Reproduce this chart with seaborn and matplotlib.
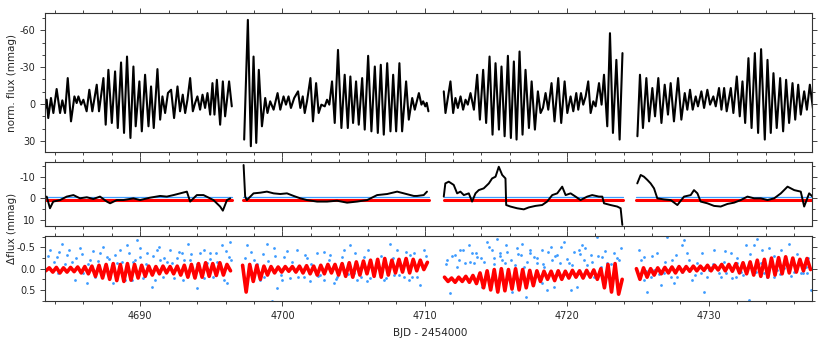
import matplotlib
matplotlib.use("Agg")
import matplotlib.pyplot as plt
import numpy as np
import pandas as pd
import seaborn as sns
from matplotlib.ticker import MultipleLocator

# ---- top panel: normalised flux (mmag) ----
top_t1 = [4683.30, 4683.42, 4683.53, 4683.72, 4683.89, 4684.12, 4684.36, 4684.52, 4684.71, 4684.90,
          4685.13, 4685.37, 4685.53, 4685.65, 4685.84, 4686.00, 4686.23, 4686.42, 4686.63, 4686.94,
          4687.10, 4687.41, 4687.57, 4687.76, 4688.00, 4688.23, 4688.42, 4688.65, 4688.86, 4689.07,
          4689.31, 4689.52, 4689.68, 4689.94, 4690.11, 4690.34, 4690.58, 4690.76, 4690.95, 4691.21,
          4691.40, 4691.56, 4691.75, 4691.95, 4692.17, 4692.38, 4692.62, 4692.80, 4692.99, 4693.16,
          4693.32, 4693.51, 4693.70, 4693.86, 4694.02, 4694.21, 4694.38, 4694.56, 4694.73, 4694.92,
          4695.08, 4695.22, 4695.39, 4695.62, 4695.81, 4695.97, 4696.25, 4696.44]
top_f1 = [4.6, -3.5, 11.4, -4.9, 7.3, -12.2, 7.3, -3.0, 7.3, -21.1,
          14.1, -6.2, -0.8, -6.2, 0.5, -3.5, 5.9, -11.6, 5.9, -15.7,
          5.9, -21.1, 16.8, -27.8, 15.4, -26.5, 19.5, -33.8, 23.5, -38.6,
          27.6, -30.5, 18.1, -18.4, 22.2, -23.8, 18.1, -14.3, 19.5, -28.4,
          12.7, -6.2, 7.3, -9.0, -11.6, 11.4, -14.3, 5.9, -7.6, 7.3,
          -3.5, -21.1, 5.9, -0.8, -6.2, 4.6, -7.6, 3.2, -8.9, 8.6,
          -17.0, 8.6, -19.7, 16.8, -18.4, 10.0, -18.4, 1.9]
top_t2 = [4697.31, 4697.57, 4697.78, 4697.97, 4698.16, 4698.34, 4698.56, 4698.79, 4698.95, 4699.14,
          4699.38, 4699.66, 4699.85, 4700.08, 4700.25, 4700.43, 4700.60, 4700.83, 4701.10, 4701.26,
          4701.43, 4701.57, 4701.73, 4701.97, 4702.15, 4702.37, 4702.55, 4702.74, 4702.98, 4703.14,
          4703.30, 4703.49, 4703.68, 4703.91, 4704.15, 4704.38, 4704.60, 4704.78, 4704.97, 4705.18,
          4705.37, 4705.61, 4705.79, 4706.03, 4706.26, 4706.50, 4706.71, 4706.92, 4707.13, 4707.37,
          4707.60, 4707.79, 4708.00, 4708.23, 4708.42, 4708.70, 4708.89, 4709.13, 4709.31, 4709.60,
          4709.78, 4709.90, 4710.05, 4710.15, 4710.27]
top_f2 = [28.9, -68.4, 34.3, -38.6, 31.6, -27.8, 18.1, -4.9, 7.3, -2.2,
          4.6, -8.9, 4.6, -6.2, 0.5, -6.2, 3.2, -4.9, -10.3, 3.2,
          -6.2, 7.3, -2.2, -21.1, 14.1, -17.0, 7.3, 0.5, 1.9, -3.5,
          0.5, -18.4, 15.4, -44.0, 19.5, -23.8, 19.5, -22.4, 15.4, -18.4,
          16.8, -21.1, 20.8, -39.2, 22.2, -30.5, 23.5, -31.9, 24.9, -33.2,
          22.2, -23.8, 22.2, -33.2, 22.2, -18.4, 12.7, -4.9, 4.6, -8.9,
          0.5, -2.2, 1.9, -1.0, 5.9]
top_t3 = [4711.35, 4711.47, 4711.82, 4712.01, 4712.17, 4712.34, 4712.53, 4712.71, 4712.88, 4713.04,
          4713.23, 4713.47, 4713.70, 4713.89, 4714.12, 4714.33, 4714.57, 4714.78, 4714.99, 4715.23,
          4715.41, 4715.63, 4715.86, 4716.07, 4716.28, 4716.47, 4716.68, 4716.89, 4717.10, 4717.34,
          4717.53, 4717.76, 4717.97, 4718.16, 4718.33, 4718.51, 4718.70, 4718.93, 4719.14, 4719.40,
          4719.61, 4719.85, 4720.04, 4720.27, 4720.46, 4720.67, 4720.81, 4721.00, 4721.16, 4721.33,
          4721.51, 4721.68, 4721.87, 4722.03, 4722.27, 4722.45, 4722.62, 4722.85, 4723.04, 4723.25,
          4723.49, 4723.72, 4723.92]
top_f3 = [-10.3, 7.3, -18.4, 7.3, -4.9, 3.2, -6.2, 4.6, -3.5, 0.5,
          -8.9, 4.6, -23.8, 12.7, -27.8, 15.4, -38.6, 24.9, -33.2, 20.8,
          -30.5, 26.2, -39.2, 27.6, -34.6, 28.9, -42.7, 24.9, -27.8, 19.5,
          -18.4, 20.8, -10.3, 7.3, 3.0, -8.9, 4.6, -17.0, 14.1, -21.1,
          15.4, -18.4, 7.3, -6.2, 5.9, -8.9, 4.6, -8.9, 0.5, -6.2,
          -18.4, 7.3, -2.2, 1.9, -17.0, 0.5, -23.8, 18.1, -57.6, 23.5,
          -35.9, 28.9, -41.4]
top_t4 = [4724.97, 4725.15, 4725.36, 4725.60, 4725.79, 4726.02, 4726.21, 4726.44, 4726.66, 4726.89,
          4727.12, 4727.31, 4727.54, 4727.83, 4728.06, 4728.30, 4728.48, 4728.67, 4728.86, 4729.07,
          4729.23, 4729.47, 4729.66, 4729.89, 4730.08, 4730.31, 4730.48, 4730.71, 4730.88, 4731.07,
          4731.25, 4731.54, 4731.72, 4731.96, 4732.17, 4732.36, 4732.55, 4732.78, 4733.00, 4733.23,
          4733.46, 4733.67, 4733.93, 4734.12, 4734.35, 4734.54, 4734.77, 4735.01, 4735.22, 4735.43,
          4735.64, 4735.88, 4736.07, 4736.28, 4736.46, 4736.70, 4736.89, 4737.10, 4737.36]
top_f4 = [26.2, -23.8, 19.5, -21.1, 14.1, -13.0, 10.0, -21.1, 15.4, -15.7,
          8.6, -17.0, 14.1, -21.1, 12.7, -8.9, 4.6, -11.6, 4.6, -6.2,
          1.9, -10.3, 3.2, -11.6, 0.5, -6.2, 1.9, -13.0, 4.6, -13.0,
          5.9, -13.0, 7.3, -22.4, 10.0, -18.4, 15.4, -37.3, 19.5, -41.4,
          23.5, -44.6, 28.9, -35.9, 23.5, -25.1, 19.5, -21.1, 22.2, -19.7,
          15.4, -17.0, 12.7, -15.7, 8.6, -10.3, 4.6, -15.7, 7.3]

# ---- middle panel: residual flux (mmag) ----
res_t1 = [4683.42, 4683.65, 4683.88, 4684.36, 4684.83, 4685.30, 4685.76, 4686.24, 4686.70, 4687.17,
          4687.65, 4687.88, 4688.35, 4688.81, 4689.52, 4689.99, 4690.69, 4691.40, 4691.87, 4692.34,
          4692.81, 4693.28, 4693.51, 4693.98, 4694.45, 4695.15, 4695.62, 4695.81, 4696.10, 4696.33]
res_f1 = [-0.8, 4.6, 1.5, 0.8, -0.8, -1.5, 0.0, -0.5, 0.3, -0.8,
          1.5, 2.3, 0.8, 0.8, 0.0, 0.8, -0.3, -1.1, -0.8, -1.5,
          -2.3, -3.1, 1.5, -1.5, -1.5, 0.8, 3.8, 5.7, 0.8, 0.0]
res_t2 = [4697.27, 4697.38, 4697.50, 4697.97, 4698.44, 4698.91, 4699.38, 4699.85, 4700.32, 4700.79,
          4701.26, 4701.73, 4702.44, 4703.14, 4703.84, 4704.55, 4705.25, 4705.96, 4706.66, 4707.37,
          4708.07, 4708.54, 4709.24, 4709.47, 4709.94, 4710.17]
res_f2 = [-15.4, -0.8, 0.8, -2.3, -2.6, -3.1, -2.3, -2.0, -2.3, -1.1,
          0.0, 0.8, 1.5, 1.5, 1.1, 2.0, 1.5, 0.8, -1.5, -2.0,
          -3.1, -2.3, -1.1, -1.1, -1.5, -3.1]
res_t3 = [4711.35, 4711.46, 4711.70, 4712.05, 4712.29, 4712.52, 4712.76, 4713.11, 4713.34, 4713.58,
          4713.81, 4714.16, 4714.52, 4714.75, 4714.99, 4715.22, 4715.46, 4715.69, 4715.74, 4716.04,
          4716.51, 4716.98, 4717.33, 4717.80, 4718.27, 4718.62, 4718.98, 4719.33, 4719.68, 4719.92,
          4720.27, 4720.62, 4720.97, 4721.44, 4721.79, 4722.26, 4722.50, 4722.62, 4723.08, 4723.55,
          4723.79, 4723.91]
res_f3 = [-0.8, -6.9, -7.7, -6.2, -2.3, -3.1, -1.5, -2.3, 1.5, -2.3,
          -3.8, -4.6, -6.9, -9.2, -10.0, -14.6, -10.8, -9.2, 3.1, 3.8,
          4.6, 5.1, 4.2, 3.5, 3.1, 1.5, -1.5, -2.3, -5.4, -1.5,
          -2.3, -0.8, 0.8, -0.8, -1.5, -0.8, -0.8, 2.3, 3.1, 3.8,
          4.6, 12.3]
res_t4 = [4724.96, 4725.20, 4725.43, 4725.67, 4725.90, 4726.14, 4726.37, 4726.84, 4727.31, 4727.78,
          4728.25, 4728.72, 4728.95, 4729.19, 4729.42, 4729.89, 4730.36, 4730.83, 4731.30, 4731.77,
          4732.24, 4732.71, 4733.18, 4733.65, 4734.12, 4734.59, 4735.06, 4735.53, 4736.00, 4736.46,
          4736.70, 4737.05, 4737.29]
res_f4 = [-6.9, -10.8, -10.0, -8.5, -6.9, -4.6, 0.0, 0.5, 0.8, 3.1,
          -0.8, -1.5, -3.8, -2.3, 1.5, 2.3, 3.5, 3.8, 2.6, 2.0,
          0.8, -0.8, 0.0, 0.0, 0.8, 0.0, -2.3, -5.4, -3.8, -3.1,
          3.8, -2.3, -0.8]
seg_start = [4683.30, 4697.25, 4711.35, 4724.90]
seg_end = [4696.45, 4710.30, 4723.95, 4737.30]
flat_red = 0.6
flat_blue = -0.6

# ---- bottom panel: model residual (red, sampled every 0.25 d) and blue points ----
red_start = [4683.35, 4697.20, 4711.40, 4724.90]
red_step = 0.25
red_v1 = [0.05, -0.02, 0.08, -0.03, 0.10, -0.02, 0.08, -0.03, 0.07, -0.04,
          0.10, -0.05, 0.12, -0.06, 0.18, -0.08, 0.22, -0.10, 0.25, -0.12,
          0.28, -0.10, 0.30, -0.12, 0.27, -0.10, 0.22, -0.08, 0.18, -0.06,
          0.15, -0.05, 0.12, -0.06, 0.10, -0.05, 0.12, -0.06, 0.15, -0.08,
          0.20, -0.10, 0.22, -0.12, 0.20, -0.14, 0.18, -0.12, 0.16, -0.14,
          0.15, -0.10, 0.05]
red_v2 = [-0.08, 0.55, -0.10, 0.30, -0.08, 0.25, -0.06, 0.15, -0.05, 0.10,
          -0.04, 0.08, -0.05, 0.06, -0.05, 0.08, -0.06, 0.10, -0.07, 0.12,
          -0.06, 0.15, -0.08, 0.12, -0.10, 0.10, -0.10, 0.15, -0.12, 0.18,
          -0.14, 0.20, -0.16, 0.15, -0.18, 0.12, -0.20, 0.18, -0.22, 0.20,
          -0.24, 0.15, -0.20, 0.10, -0.22, 0.08, -0.24, 0.10, -0.22, 0.05,
          -0.20, 0.02, -0.15]
red_v3 = [0.20, 0.30, 0.22, 0.32, 0.20, 0.30, 0.18, 0.32, 0.16, 0.35,
          0.10, 0.45, 0.05, 0.50, 0.02, 0.55, 0.00, 0.52, 0.02, 0.48,
          0.00, 0.50, 0.02, 0.45, 0.04, 0.40, 0.05, 0.30, 0.06, 0.25,
          0.06, 0.28, 0.05, 0.25, 0.06, 0.22, 0.04, 0.20, 0.05, 0.22,
          0.04, 0.20, 0.03, 0.25, 0.00, 0.45, -0.10, 0.55, -0.12, 0.60,
          0.25]
red_v4 = [0.00, 0.25, -0.02, 0.20, 0.00, 0.15, -0.02, 0.12, -0.03, 0.10,
          -0.04, 0.10, -0.05, 0.08, -0.05, 0.06, -0.06, 0.05, -0.06, 0.04,
          -0.08, 0.05, -0.08, 0.03, -0.10, 0.05, -0.10, 0.06, -0.12, 0.10,
          -0.14, 0.12, -0.16, 0.15, -0.20, 0.18, -0.22, 0.20, -0.25, 0.15,
          -0.26, 0.12, -0.28, 0.10, -0.25, 0.08, -0.22, 0.05, -0.24, 0.02]

blue_t = [4683.65, 4684.47, 4684.12, 4685.76, 4684.83, 4685.41, 4686.23, 4686.47, 4687.17, 4687.64,
          4688.11, 4688.58, 4689.05, 4689.40, 4689.76, 4689.99, 4690.46, 4690.81, 4691.16, 4691.63,
          4692.10, 4692.57, 4693.04, 4693.39, 4693.98, 4694.22, 4694.68, 4695.15, 4695.74, 4696.33,
          4696.09, 4684.24, 4685.18, 4686.00, 4686.82, 4687.88, 4688.35, 4688.93, 4689.52, 4690.22,
          4691.05, 4691.40, 4691.87, 4692.34, 4692.92, 4693.51, 4694.45, 4694.92, 4695.39, 4695.86,
          4696.21,
          4697.50, 4697.97, 4698.44, 4698.91, 4699.38, 4699.61, 4700.08, 4700.55, 4701.02, 4701.49,
          4701.96, 4702.43, 4702.90, 4703.37, 4703.84, 4704.31, 4704.78, 4705.25, 4705.72, 4706.19,
          4706.66, 4707.13, 4707.60, 4708.07, 4708.54, 4709.24, 4697.97, 4698.68, 4699.97, 4700.79,
          4701.73, 4702.67, 4703.61, 4705.01, 4705.95, 4707.83, 4708.89, 4699.26, 4709.00, 4709.47,
          4709.94, 4709.23, 4709.70,
          4711.58, 4711.82, 4712.17, 4712.52, 4713.11, 4713.69, 4714.05, 4714.40, 4714.75, 4715.10,
          4715.46, 4715.81, 4716.16, 4716.51, 4716.86, 4717.10, 4717.45, 4717.92, 4718.27, 4718.62,
          4718.98, 4719.33, 4719.80, 4720.15, 4720.50, 4720.85, 4721.21, 4721.68, 4722.15, 4722.50,
          4722.85, 4723.32, 4723.67, 4712.29, 4712.87, 4713.46, 4714.16, 4714.87, 4715.69, 4716.39,
          4717.22, 4717.69, 4718.39, 4719.09, 4719.56, 4720.27, 4720.74, 4721.44, 4721.91, 4722.38,
          4723.08, 4723.55, 4718.27, 4713.34, 4715.34, 4716.75, 4718.86, 4721.09,
          4725.08, 4725.43, 4725.67, 4725.90, 4726.37, 4726.61, 4726.84, 4727.08, 4727.43, 4727.78,
          4728.13, 4728.25, 4728.48, 4728.84, 4729.19, 4729.66, 4730.01, 4730.36, 4730.83, 4731.18,
          4731.53, 4731.89, 4732.24, 4732.59, 4732.83, 4733.18, 4733.41, 4733.88, 4734.23, 4734.59,
          4735.06, 4735.64, 4736.00, 4736.46, 4736.82, 4737.17, 4725.43, 4726.14, 4727.54, 4729.42,
          4730.24, 4731.07, 4732.00, 4732.94, 4733.65, 4734.82, 4735.29, 4736.23, 4736.93]
blue_f = [-0.44, -0.59, -0.28, -0.48, -0.32, 0.27, 0.34, -0.20, -0.36, -0.28,
          0.34, -0.44, -0.55, 0.27, -0.67, -0.28, -0.36, 0.42, -0.44, 0.19,
          -0.44, -0.24, 0.27, -0.59, 0.46, -0.36, -0.13, 0.19, -0.55, -0.63,
          0.34, 0.11, -0.16, 0.11, 0.19, 0.19, -0.13, 0.27, -0.16, 0.23,
          0.27, -0.20, -0.16, 0.23, -0.36, -0.20, 0.23, -0.36, -0.16, 0.27,
          -0.28,
          -0.55, -0.20, 0.27, -0.59, -0.48, 0.46, -0.28, 0.23, -0.44, 0.19,
          0.30, -0.36, 0.27, -0.32, 0.19, -0.44, -0.55, 0.27, -0.28, 0.23,
          -0.20, 0.27, -0.59, -0.44, 0.19, -0.36, 0.11, 0.19, 0.27, 0.03,
          -0.24, 0.15, 0.34, 0.11, 0.30, 0.15, 0.27, 0.75, -0.32, 0.19,
          -0.44, -0.16, 0.38,
          -0.20, 0.58, -0.32, -0.44, -0.55, -0.28, 0.42, -0.63, -0.44, -0.71,
          -0.20, -0.40, 0.54, -0.48, -0.59, 0.66, -0.36, -0.13, -0.44, 0.50,
          -0.20, -0.32, -0.63, -0.13, -0.40, -0.44, -0.20, -0.32, -0.75, -0.28,
          -0.13, -0.36, -0.20, -0.05, -0.13, -0.13, -0.16, -0.24, -0.13, -0.09,
          -0.16, -0.28, -0.05, 0.42, -0.13, 0.50, 0.42, -0.09, 0.19, -0.05,
          0.34, 0.27, 0.34, -0.36, -0.36, -0.32, -0.52, -0.55,
          -0.44, -0.28, 0.54, 0.19, -0.36, 0.38, 0.11, -0.75, -0.20, 0.19,
          -0.55, -0.67, -0.36, 0.27, -0.13, 0.54, 0.03, -0.44, 0.19, 0.11,
          -0.36, 0.19, 0.07, -0.55, 0.73, -0.55, -0.71, 0.11, -0.48, 0.19,
          -0.44, -0.59, 0.07, 0.11, -0.05, 0.50, 0.27, 0.03, 0.34, 0.11,
          -0.05, -0.16, -0.13, -0.05, -0.13, 0.03, -0.01, -0.01, 0.11]
# denser part of the blue cloud just above the red band
blue_more_t = [4683.5, 4683.9, 4684.3, 4684.7, 4685.0, 4685.5, 4685.9, 4686.3, 4686.7, 4687.0,
               4687.4, 4687.8, 4688.2, 4688.7, 4689.2, 4689.6, 4690.0, 4690.4, 4690.9, 4691.3,
               4691.7, 4692.2, 4692.7, 4693.1, 4693.6, 4694.0, 4694.5, 4694.9, 4695.3, 4695.6,
               4696.0, 4696.4,
               4697.4, 4697.8, 4698.2, 4698.6, 4699.0, 4699.5, 4699.9, 4700.3, 4700.7, 4701.1,
               4701.6, 4702.0, 4702.5, 4702.9, 4703.3, 4703.8, 4704.2, 4704.6, 4705.1, 4705.5,
               4706.0, 4706.4, 4706.9, 4707.3, 4707.8, 4708.2, 4708.7, 4709.1, 4709.6, 4710.1,
               4711.5, 4711.9, 4712.4, 4712.7, 4713.2, 4713.6, 4714.0, 4714.5, 4714.9, 4715.3,
               4715.7, 4716.1, 4716.6, 4717.0, 4717.4, 4717.9, 4718.3, 4718.7, 4719.2, 4719.6,
               4720.0, 4720.4, 4720.9, 4721.3, 4721.8, 4722.2, 4722.7, 4723.1, 4723.5, 4723.8,
               4725.2, 4725.6, 4726.0, 4726.5, 4726.9, 4727.3, 4727.7, 4728.1, 4728.6, 4729.0,
               4729.5, 4729.9, 4730.3, 4730.7, 4731.1, 4731.6, 4732.0, 4732.4, 4732.9, 4733.3,
               4733.7, 4734.1, 4734.6, 4735.0, 4735.4, 4735.8, 4736.2, 4736.6, 4737.0]
blue_more_f = [-0.30, -0.15, -0.40, -0.12, -0.45, -0.25, -0.35, -0.10, -0.42, -0.18,
               -0.50, -0.22, -0.33, -0.15, -0.38, -0.20, -0.48, -0.12, -0.30, -0.52,
               -0.25, -0.14, -0.40, -0.20, -0.35, -0.12, -0.45, -0.22, -0.38, -0.10,
               -0.42, -0.20,
               -0.25, -0.40, -0.12, -0.35, -0.18, -0.30, 0.15, -0.42, -0.15, 0.20,
               -0.32, -0.10, 0.18, -0.40, -0.20, 0.25, -0.28, 0.12, -0.38, 0.20,
               -0.45, 0.10, -0.30, 0.22, -0.25, 0.15, -0.40, 0.20, -0.15, -0.30,
               -0.10, -0.30, -0.20, -0.45, -0.15, -0.38, -0.25, -0.50, -0.10, -0.30,
               -0.55, -0.20, -0.35, -0.05, -0.45, -0.25, -0.12, -0.40, -0.30, -0.52,
               -0.22, -0.08, -0.35, -0.48, -0.15, -0.30, -0.42, -0.10, -0.25, -0.48,
               -0.20, 0.05, -0.30, 0.12, -0.15, 0.20, -0.32, 0.08, -0.20, 0.15,
               -0.38, 0.20, -0.12, 0.10, -0.42, 0.22, -0.25, 0.15, -0.35, 0.08,
               -0.45, 0.20, -0.30, 0.12, -0.20, 0.18, -0.35, 0.10, -0.25]


def segments(ts, fs):
    frames = []
    for i, (t, f) in enumerate(zip(ts, fs)):
        frames.append(pd.DataFrame({"t": t, "f": f, "seg": i}))
    return pd.concat(frames, ignore_index=True)


top_df = segments([top_t1, top_t2, top_t3, top_t4], [top_f1, top_f2, top_f3, top_f4])
res_df = segments([res_t1, res_t2, res_t3, res_t4], [res_f1, res_f2, res_f3, res_f4])
red_t = [s + red_step * np.arange(len(v)) for s, v in zip(red_start, [red_v1, red_v2, red_v3, red_v4])]
red_df = segments(red_t, [red_v1, red_v2, red_v3, red_v4])
flat_t = [[a, b] for a, b in zip(seg_start, seg_end)]
red_flat = segments(flat_t, [[flat_red, flat_red]] * 4)
blue_flat = segments(flat_t, [[flat_blue, flat_blue]] * 4)
blue_df = pd.DataFrame({"t": blue_t + blue_more_t, "f": blue_f + blue_more_f})

sns.set_style("ticks")
plt.rcParams["font.family"] = ["DejaVu Sans"]
plt.rcParams["axes.unicode_minus"] = False

fig = plt.figure(figsize=(8.3, 3.46), dpi=100)
ax1 = fig.add_axes([0.0542, 0.5607, 0.9241, 0.4017])
ax2 = fig.add_axes([0.0542, 0.3468, 0.9241, 0.1850])
ax3 = fig.add_axes([0.0542, 0.1301, 0.9241, 0.1879])

blue = "#3d9bff"

sns.lineplot(data=top_df, x="t", y="f", units="seg", estimator=None, sort=False,
             color="black", lw=1.5, ax=ax1)

sns.lineplot(data=red_flat, x="t", y="f", units="seg", estimator=None,
             color="red", lw=2.2, ax=ax2)
sns.lineplot(data=blue_flat, x="t", y="f", units="seg", estimator=None,
             color=blue, lw=0.9, ax=ax2)
sns.lineplot(data=res_df, x="t", y="f", units="seg", estimator=None, sort=False,
             color="black", lw=1.4, ax=ax2)

sns.scatterplot(data=blue_df, x="t", y="f", color=blue, s=4, linewidth=0, ax=ax3)
sns.lineplot(data=red_df, x="t", y="f", units="seg", estimator=None,
             color="red", lw=2.6, ax=ax3)

for ax in (ax1, ax2, ax3):
    ax.set_xlim(4683.3, 4737.25)
    ax.set_xlabel("")
    ax.set_ylabel("")
    ax.xaxis.set_major_locator(MultipleLocator(10))
    ax.xaxis.set_minor_locator(MultipleLocator(2))
    ax.tick_params(which="both", direction="out", top=True, right=True, labelsize=7, width=0.6)
    ax.tick_params(which="major", length=3.5)
    ax.tick_params(which="minor", length=2)
    for sp in ax.spines.values():
        sp.set_visible(True)
        sp.set_linewidth(0.8)
        sp.set_color("#333333")

ax1.set_ylim(39, -74)
ax1.yaxis.set_major_locator(MultipleLocator(30))
ax1.yaxis.set_minor_locator(MultipleLocator(10))
ax1.tick_params(labelbottom=False)

ax2.set_ylim(12.8, -16.8)
ax2.yaxis.set_major_locator(MultipleLocator(10))
ax2.yaxis.set_minor_locator(MultipleLocator(5))
ax2.tick_params(labelbottom=False)

ax3.set_ylim(0.76, -0.77)
ax3.set_yticks([-0.5, 0.0, 0.5])
ax3.set_yticklabels(["-0.5", "0.0", "0.5"])
ax3.yaxis.set_minor_locator(MultipleLocator(0.25))

fig.text(12 / 830, 1 - 83 / 346, "norm. flux (mmag)", rotation=90, ha="center", va="center", fontsize=7.5)
fig.text(12 / 830, 1 - 228 / 346, "Δflux (mmag)", rotation=90, ha="center", va="center", fontsize=7.5)
fig.text(430 / 830, 1 - 333 / 346, "BJD - 2454000", ha="center", va="center", fontsize=7.5)

fig.savefig("out.png", dpi=100)
